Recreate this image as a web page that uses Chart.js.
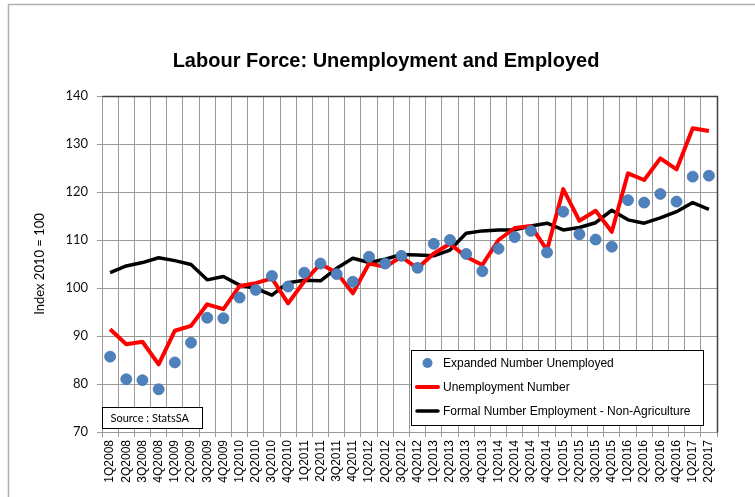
<!DOCTYPE html>
<html>
<head>
<meta charset="utf-8">
<script src="https://cdn.jsdelivr.net/npm/chart.js@4/dist/chart.umd.min.js"></script>
<style>
  html, body { margin: 0; padding: 0; background: #fff; }
  #wrap { width: 755px; height: 497px; position: relative; }
</style>
</head>
<body>
<div id="wrap"><canvas id="c" width="755" height="497"></canvas></div>
<script>
const categories = [
  '1Q2008','2Q2008','3Q2008','4Q2008','1Q2009','2Q2009','3Q2009','4Q2009',
  '1Q2010','2Q2010','3Q2010','4Q2010','1Q2011','2Q2011','3Q2011','4Q2011',
  '1Q2012','2Q2012','3Q2012','4Q2012','1Q2013','2Q2013','3Q2013','4Q2013',
  '1Q2014','2Q2014','3Q2014','4Q2014','1Q2015','2Q2015','3Q2015','4Q2015',
  '1Q2016','2Q2016','3Q2016','4Q2016','1Q2017','2Q2017'
];
const expandedUnemployed = [
  85.7, 81.0, 80.8, 78.9, 84.5, 88.6, 93.8, 93.7,
  98.0, 99.6, 102.5, 100.3, 103.2, 105.1, 102.9, 101.3,
  106.5, 105.1, 106.7, 104.2, 109.2, 110.0, 107.1, 103.5,
  108.2, 110.6, 111.9, 107.4, 115.9, 111.2, 110.1, 108.6,
  118.3, 117.8, 119.6, 118.0, 123.2, 123.4
];
const unemploymentNumber = [
  91.4, 88.3, 88.8, 84.1, 91.1, 92.1, 96.6, 95.6,
  100.4, 101.0, 102.0, 96.8, 101.4, 105.0, 103.2, 98.9,
  105.1, 104.4, 106.5, 104.1, 107.2, 109.2, 106.5, 104.8,
  110.0, 112.5, 112.9, 107.9, 120.6, 114.0, 116.1, 111.7,
  123.9, 122.5, 127.0, 124.7, 133.3, 132.7
];
const formalEmployment = [
  103.2, 104.6, 105.3, 106.3, 105.7, 104.9, 101.7, 102.4,
  100.6, 99.9, 98.5, 101.1, 101.6, 101.5, 104.1, 106.2,
  105.3, 106.0, 107.0, 106.9, 106.7, 107.9, 111.4, 111.9,
  112.1, 112.1, 112.9, 113.5, 112.1, 112.6, 113.6, 116.2,
  114.2, 113.5, 114.6, 115.9, 117.8, 116.4
];
const seriesNames = [
  'Expanded Number Unemployed',
  'Unemployment Number',
  'Formal Number Employment - Non-Agriculture'
];
const yTicks = [70, 80, 90, 100, 110, 120, 130, 140];
const titleText = 'Labour Force: Unemployment and Employed';
const yTitle = 'Index 2010 = 100';
const sourceText = 'Source : StatsSA';

const BLUE = '#4F81BD', RED = '#FF0000', BLACK = '#000000';
const GRID = '#9a9a9a';

const decorPlugin = {
  id: 'decor',
  beforeDraw(chart) {
    const ctx = chart.ctx;
    ctx.save();
    ctx.fillStyle = '#fff';
    ctx.fillRect(0, 0, chart.width, chart.height);
    ctx.strokeStyle = '#b0b0b0';
    ctx.lineWidth = 1.5;
    ctx.beginPath();
    ctx.moveTo(8.5, chart.height);
    ctx.lineTo(8.5, 4.5);
    ctx.lineTo(chart.width, 4.5);
    ctx.stroke();
    ctx.restore();
  },
  beforeDatasetsDraw(chart) {
    const ctx = chart.ctx, a = chart.chartArea;
    ctx.save();
    ctx.strokeStyle = '#404040';
    ctx.lineWidth = 1.5;
    ctx.beginPath();
    ctx.moveTo(Math.round(a.left) + 0.5, Math.round(a.top) + 0.5);
    ctx.lineTo(Math.round(a.right) + 0.5, Math.round(a.top) + 0.5);
    ctx.lineTo(Math.round(a.right) + 0.5, Math.round(a.bottom) + 0.5);
    ctx.stroke();
    ctx.restore();
  },
  afterDraw(chart) {
    const ctx = chart.ctx, a = chart.chartArea;
    ctx.save();
    // Source box
    const sx = Math.round(a.left) + 0.5, sy = 407.5;
    ctx.fillStyle = '#fff';
    ctx.fillRect(sx, sy, 100, 21);
    ctx.strokeStyle = '#000';
    ctx.lineWidth = 1;
    ctx.strokeRect(sx, sy, 100, 21);
    ctx.fillStyle = '#000';
    ctx.font = '11px Lato, "Open Sans", sans-serif';
    ctx.textBaseline = 'middle';
    ctx.textAlign = 'left';
    ctx.fillText(sourceText, sx + 8, sy + 11);
    // Legend box
    const lx = 411.5, ly = 350.5, lw = 292, lh = 75;
    ctx.fillStyle = '#fff';
    ctx.fillRect(lx, ly, lw, lh);
    ctx.strokeStyle = '#000';
    ctx.strokeRect(lx, ly, lw, lh);
    ctx.font = '12px "Liberation Sans", Arial, sans-serif';
    const rows = [363, 387, 411];
    ctx.fillStyle = BLUE;
    ctx.beginPath();
    ctx.arc(427.5, rows[0], 5, 0, Math.PI * 2);
    ctx.fill();
    ctx.lineCap = 'round';
    ctx.strokeStyle = RED; ctx.lineWidth = 4;
    ctx.beginPath(); ctx.moveTo(417, rows[1]); ctx.lineTo(438, rows[1]); ctx.stroke();
    ctx.strokeStyle = BLACK; ctx.lineWidth = 3.5;
    ctx.beginPath(); ctx.moveTo(417, rows[2]); ctx.lineTo(438, rows[2]); ctx.stroke();
    ctx.fillStyle = '#000';
    for (let i = 0; i < 3; i++) ctx.fillText(seriesNames[i], 443, rows[i] + 1);
    ctx.restore();
  }
};

new Chart(document.getElementById('c'), {
  type: 'line',
  data: {
    labels: categories,
    datasets: [
      {
        label: seriesNames[0],
        data: expandedUnemployed,
        showLine: false,
        pointRadius: 5.5,
        pointBackgroundColor: BLUE,
        pointBorderColor: '#4676b0',
        pointBorderWidth: 0.8,
        backgroundColor: BLUE,
        borderColor: BLUE
      },
      {
        label: seriesNames[1],
        data: unemploymentNumber,
        borderColor: RED,
        backgroundColor: RED,
        borderWidth: 4,
        pointRadius: 0,
        tension: 0,
        borderJoinStyle: 'round'
      },
      {
        label: seriesNames[2],
        data: formalEmployment,
        borderColor: BLACK,
        backgroundColor: BLACK,
        borderWidth: 3.5,
        pointRadius: 0,
        tension: 0,
        borderJoinStyle: 'round'
      }
    ]
  },
  options: {
    responsive: false,
    animation: false,
    layout: { padding: { left: 17, right: 0, top: 0, bottom: 0 } },
    plugins: {
      legend: { display: false },
      tooltip: { enabled: false },
      title: {
        display: true,
        text: titleText,
        color: '#000',
        font: { family: '"Liberation Sans", Arial, sans-serif', size: 20, weight: 'bold', lineHeight: 1.2 },
        padding: { top: 49, bottom: 23 }
      }
    },
    scales: {
      x: {
        type: 'category',
        offset: true,
        afterFit(scale) { scale.height = 65; },
        grid: { offset: true, color: GRID, lineWidth: 1, drawTicks: true, tickLength: 5 },
        border: { color: GRID, width: 1 },
        ticks: {
          autoSkip: false,
          maxRotation: 90,
          minRotation: 90,
          padding: 3,
          color: '#000',
          font: { family: '"Liberation Sans", Arial, sans-serif', size: 12 }
        }
      },
      y: {
        min: 70,
        max: 140,
        afterFit(scale) { scale.width = 85; },
        afterBuildTicks(scale) { scale.ticks = yTicks.map(v => ({ value: v })); },
        grid: { color: GRID, lineWidth: 1, drawTicks: true, tickLength: 5 },
        border: { color: GRID, width: 1 },
        title: {
          display: true,
          text: yTitle,
          color: '#000',
          font: { family: 'Lato, "Open Sans", sans-serif', size: 13 },
          padding: { top: 15, bottom: 0 }
        },
        ticks: {
          padding: 9,
          color: '#111',
          font: { family: 'Lato, "Open Sans", sans-serif', size: 13 }
        }
      },
      ySpacer: {
        position: 'right',
        min: 70,
        max: 140,
        afterFit(scale) { scale.width = 38; },
        grid: { display: false, drawOnChartArea: false },
        border: { display: false },
        ticks: { display: false }
      }
    }
  },
  plugins: [decorPlugin]
});
</script>
</body>
</html>
